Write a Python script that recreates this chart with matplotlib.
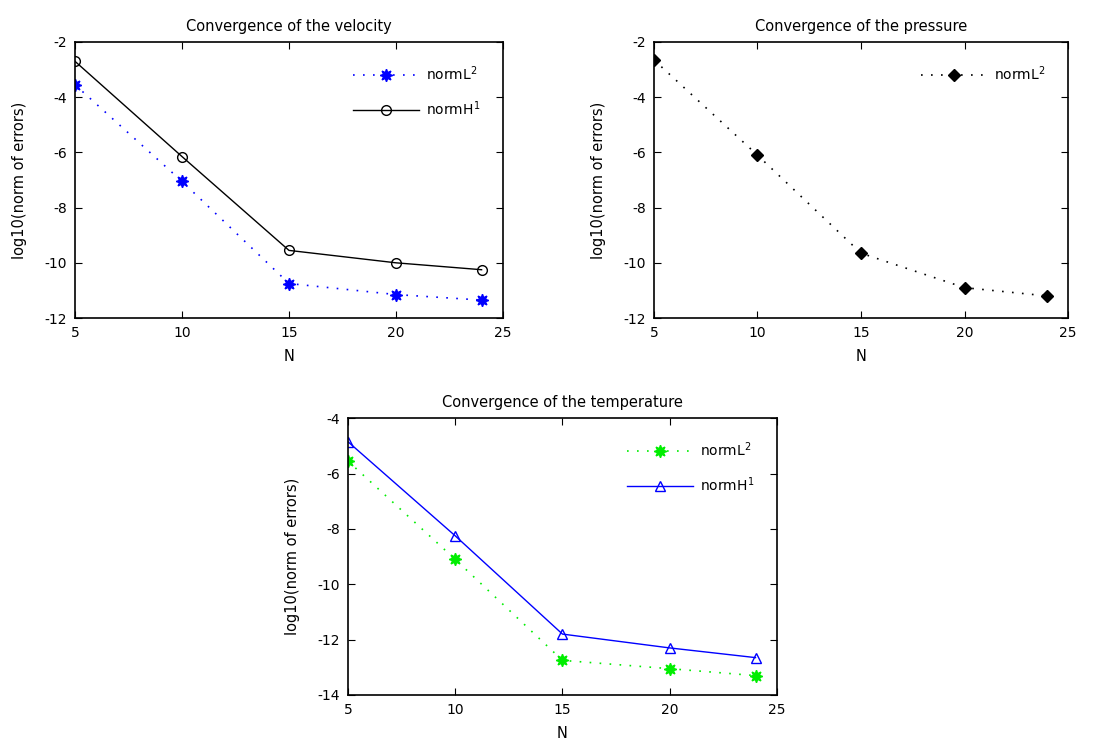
import matplotlib
matplotlib.use('Agg')
import matplotlib.pyplot as plt

# ─── data ─────────────────────────────────────────────────────────────────────

N = [5, 10, 15, 20, 24]

vel_L2 = [-3.55, -7.05, -10.75, -11.15, -11.35]
vel_H1 = [-2.70, -6.15, -9.55, -10.00, -10.25]

pres_L2 = [-2.65, -6.10, -9.65, -10.90, -11.20]

temp_L2 = [-5.55, -9.10, -12.75, -13.05, -13.30]
temp_H1 = [-4.85, -8.25, -11.80, -12.30, -12.65]

xticks = [5, 10, 15, 20, 25]

# ─── figure ───────────────────────────────────────────────────────────────────

plt.rcParams['font.family'] = ['DejaVu Sans']
plt.rcParams['font.size'] = 10
plt.rcParams['axes.unicode_minus'] = False
plt.rcParams['axes.linewidth'] = 1.2

fig = plt.figure(figsize=(11.16, 7.46), dpi=100)

ax_v = fig.add_axes([0.0672, 0.5737, 0.3835, 0.370])
ax_p = fig.add_axes([0.586, 0.5737, 0.371, 0.370])
ax_t = fig.add_axes([0.3118, 0.0684, 0.3844, 0.371])

dots = (0, (1, 5))
star = (8, 1, 0)


def style(ax, title, ylim, yticks):
    ax.set_xlim(5, 25)
    ax.set_xticks(xticks)
    ax.set_ylim(*ylim)
    ax.set_yticks(yticks)
    ax.tick_params(direction='in', top=True, right=True, length=5, pad=6,
                   labelsize=10)
    ax.set_title(title, fontsize=10.5, pad=8)
    ax.set_xlabel('N', fontsize=10.5, labelpad=6)
    ax.set_ylabel('log10(norm of errors)', fontsize=10.5, labelpad=12)
    ax.legend(loc='upper right', frameon=False, fontsize=10, handlelength=4.8,
              borderaxespad=1.2, labelspacing=1.2, handletextpad=0.5)


ax_v.plot(N, vel_L2, color='blue', linestyle=dots, linewidth=1.2, marker=star,
          markersize=9, markerfacecolor='blue', label='normL$^2$')
ax_v.plot(N, vel_H1, color='black', linestyle='-', linewidth=1, marker='o',
          markersize=7, markerfacecolor='none', label='normH$^1$')
style(ax_v, 'Convergence of the velocity', (-12, -2), [-12, -10, -8, -6, -4, -2])

ax_p.plot(N, pres_L2, color='black', linestyle=dots, linewidth=1.2, marker='D',
          markersize=6, markerfacecolor='black', label='normL$^2$')
style(ax_p, 'Convergence of the pressure', (-12, -2), [-12, -10, -8, -6, -4, -2])

ax_t.plot(N, temp_L2, color='#00ee00', linestyle=dots, linewidth=1.2, marker=star,
          markersize=9, markerfacecolor='#00ee00', label='normL$^2$')
ax_t.plot(N, temp_H1, color='blue', linestyle='-', linewidth=1, marker='^',
          markersize=7, markerfacecolor='none', label='normH$^1$')
style(ax_t, 'Convergence of the temperature', (-14, -4), [-14, -12, -10, -8, -6, -4])

fig.savefig('out.png', dpi=100)
